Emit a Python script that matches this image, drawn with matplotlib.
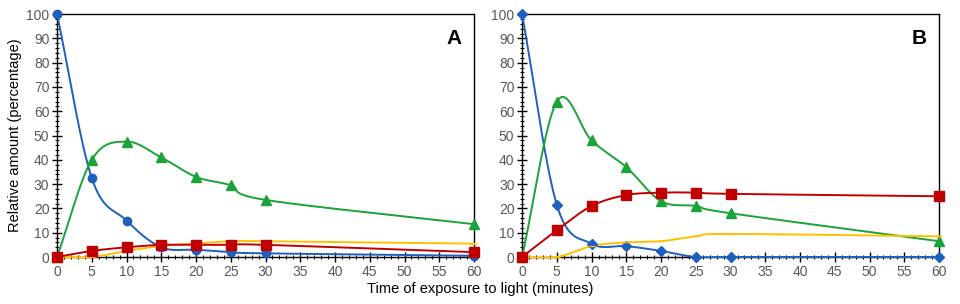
import numpy as np
import matplotlib
matplotlib.use("Agg")
import matplotlib.pyplot as plt
from matplotlib.ticker import MultipleLocator

plt.rcParams['font.family'] = ['Liberation Sans', 'DejaVu Sans']

# ------------------------------
#  data
# ------------------------------
temps = [0, 5, 10, 15, 20, 25, 30, 60]

a_bleu = [100, 32.5, 15, 4, 3, 2, 1.5, 0.5]
a_vert = [0, 40, 47.5, 41, 33, 29.5, 23.5, 13.5]
a_rouge = [0, 2.5, 4, 5, 5, 5, 5, 2]
a_jaune = [0, 0, 2.5, 4.5, 5.5, 6.5, 6.5, 5.5]

b_bleu = [100, 21.5, 5.5, 4.5, 2.5, 0, 0, 0]
b_vert = [0, 64, 48, 37, 23, 21, 18, 6.5]
b_rouge = [0, 11, 21, 25.5, 26.5, 26.5, 26, 25]
b_jaune = [0, 0, 4.5, 6, 6.5, 8.5, 9.5, 8.5]

bleu = '#1F5FBF'
vert = '#19A339'
rouge = '#C00000'
jaune = '#FFC000'


def lisser(x, y, n=30):
    # courbe lissee type Excel (Catmull-Rom)
    x = np.asarray(x, float)
    y = np.asarray(y, float)
    px = np.concatenate([[2 * x[0] - x[1]], x, [2 * x[-1] - x[-2]]])
    py = np.concatenate([[2 * y[0] - y[1]], y, [2 * y[-1] - y[-2]]])
    xs, ys = [], []
    t = np.linspace(0, 1, n)
    for i in range(1, len(px) - 2):
        p0x, p1x, p2x, p3x = px[i - 1:i + 3]
        p0y, p1y, p2y, p3y = py[i - 1:i + 3]
        # tangentes
        m1x, m1y = (p2x - p0x) / 6, (p2y - p0y) / 6
        m2x, m2y = (p3x - p1x) / 6, (p3y - p1y) / 6
        b0 = (1 - t) ** 3
        b1 = 3 * (1 - t) ** 2 * t
        b2 = 3 * (1 - t) * t ** 2
        b3 = t ** 3
        xs.append(b0 * p1x + b1 * (p1x + m1x) + b2 * (p2x - m2x) + b3 * p2x)
        ys.append(b0 * p1y + b1 * (p1y + m1y) + b2 * (p2y - m2y) + b3 * p2y)
    return np.concatenate(xs), np.concatenate(ys)


def tracer(ax, x, y, couleur, marqueur, taille):
    xs, ys = lisser(x, y)
    ax.plot(xs, ys, color=couleur, lw=1.4, clip_on=False, zorder=3)
    ax.plot(x, y, ls='none', marker=marqueur, ms=taille, color=couleur,
            mec=couleur, clip_on=False, zorder=4)


fig = plt.figure(figsize=(9.6, 3.04), dpi=100)
ax_a = fig.add_axes([0.0594, 0.1546, 0.4344, 0.799])
ax_b = fig.add_axes([0.5438, 0.1546, 0.4344, 0.799])

series = [
    (ax_a, a_bleu, a_vert, a_rouge, a_jaune, 'o', 'A'),
    (ax_b, b_bleu, b_vert, b_rouge, b_jaune, 'D', 'B'),
]

for ax, yb, yv, yr, yj, mb, lettre in series:
    tracer(ax, temps, yb, bleu, mb, 6 if mb == 'o' else 5)
    tracer(ax, temps, yv, vert, '^', 7)
    tracer(ax, temps, yj, jaune, '_', 5)
    tracer(ax, temps, yr, rouge, 's', 7)

    ax.set_xlim(0, 60)
    ax.set_ylim(0, 100)
    ax.xaxis.set_major_locator(MultipleLocator(5))
    ax.xaxis.set_minor_locator(MultipleLocator(1))
    ax.yaxis.set_major_locator(MultipleLocator(10))
    ax.yaxis.set_minor_locator(MultipleLocator(2))
    ax.tick_params(which='major', direction='inout', length=7, width=1,
                   labelsize=10, labelcolor='#595959', pad=2)
    ax.tick_params(which='minor', direction='inout', length=3.5, width=0.8)
    for s in ax.spines.values():
        s.set_linewidth(1)
    ax.text(0.97, 0.90, lettre, transform=ax.transAxes, ha='right', va='center',
            fontsize=15, fontweight='bold')

ax_a.set_ylabel("Relative amount (percentage)", fontsize=10.5, labelpad=3)
fig.text(0.5, 0.05, "Time of exposure to light (minutes)", ha='center',
         va='center', fontsize=10.5)

plt.savefig('out.png', dpi=100)
